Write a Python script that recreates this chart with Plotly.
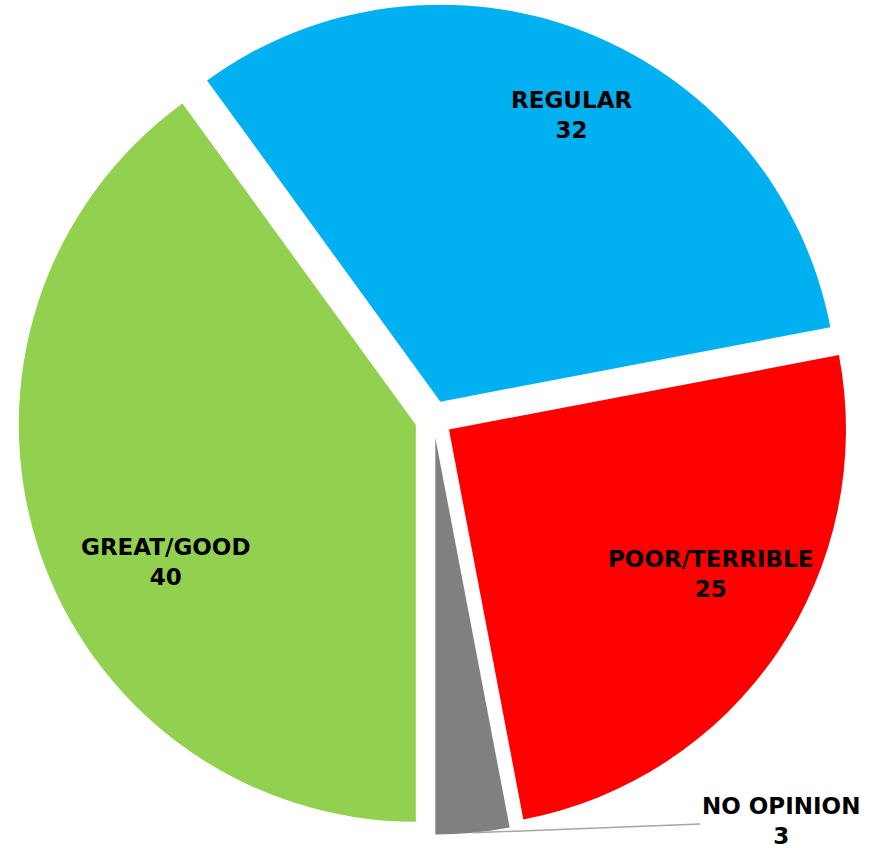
import math
import plotly.graph_objects as go

# ---- data ----
categories = ["REGULAR", "POOR/TERRIBLE", "NO OPINION", "GREAT/GOOD"]
values = [32, 25, 3, 40]
colors = ["#00B0F0", "#FF0000", "#808080", "#92D050"]

# label placement (style): radial fraction of radius, angular nudge in degrees
label_r = [0.84, 0.80, None, 0.765]
label_da = [2.8, -5.0, None, -10.0]

W, H = 880, 848
ROT = -36
PULL = 0.047
DOM_X = [0.0203, 0.9650]
DOM_Y = [0.0118, 1.0]
FONT = dict(family="DejaVu Sans", size=23, color="#000000", weight="bold")

fig = go.Figure()
fig.add_trace(go.Pie(
    labels=categories, values=values, sort=False, direction="clockwise",
    rotation=ROT, pull=[PULL] * len(values),
    marker=dict(colors=colors, line=dict(width=0)),
    textinfo="none", hoverinfo="label+value", showlegend=False,
    domain=dict(x=DOM_X, y=DOM_Y),
))

# pie geometry (same formulas plotly uses)
total = sum(values)
wpx = (DOM_X[1] - DOM_X[0]) * W
hpx = (DOM_Y[1] - DOM_Y[0]) * H
r = min(wpx, hpx) / (2 + 2 * PULL)
cx = W * (DOM_X[0] + DOM_X[1]) / 2
cy = H * (1 - DOM_Y[0]) - hpx / 2


def mid_angle(i):
    start = ROT + sum(values[:i]) * 360 / total
    return start + values[i] * 180 / total


for i, (c, v) in enumerate(zip(categories, values)):
    if label_r[i] is None:
        continue
    a = math.radians(mid_angle(i) + label_da[i])
    px = cx + r * label_r[i] * math.sin(a)
    py = cy - r * label_r[i] * math.cos(a)
    fig.add_annotation(
        x=px / W, y=1 - py / H, xref="paper", yref="paper",
        text=f"{c}<br>{v}", font=FONT, align="center", showarrow=False,
        xanchor="center", yanchor="middle",
    )

# leader-line label for the small slice
idx = 2
a = math.radians(mid_angle(idx))
tx = cx + r * (1 + PULL) * math.sin(a)
ty = cy - r * (1 + PULL) * math.cos(a)
fig.add_annotation(
    x=tx / W, y=1 - ty / H, xref="paper", yref="paper",
    text=f"{categories[idx]}<br>{values[idx]}", font=FONT, align="center",
    showarrow=True, arrowhead=0, arrowwidth=1.5, arrowcolor="#A6A6A6",
    standoff=0, ax=308, ay=-12,
)

fig.update_layout(
    width=W, height=H,
    margin=dict(l=0, r=0, t=0, b=0),
    paper_bgcolor="white", plot_bgcolor="white",
    showlegend=False,
)

fig.write_html("out.html", config={"displayModeBar": False},
               post_script="document.body.style.margin='0';")
